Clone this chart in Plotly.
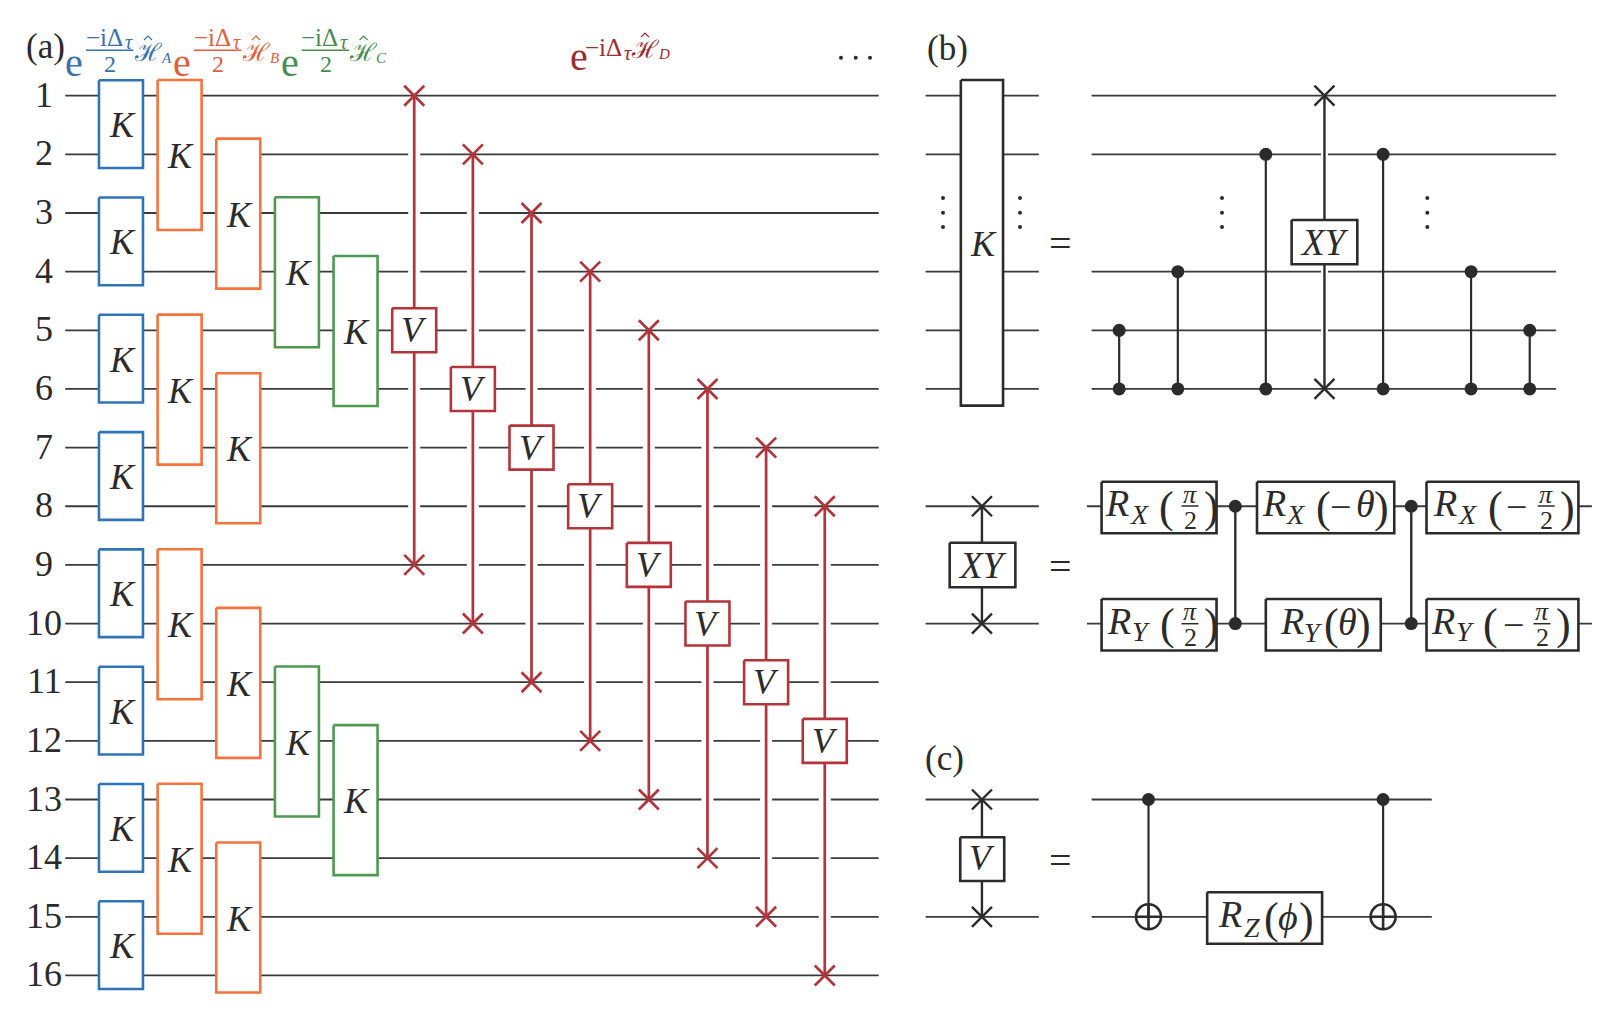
import plotly.graph_objects as go

# Wire labels and gates. Wires are numbered from the top, columns count gate slots
wire_labels = [str(i) for i in range(1, 17)]
main_wires = list(range(1, 17))

blue_gates = [(2, 1, 2), (2, 3, 4), (2, 5, 6), (2, 7, 8), (2, 9, 10), (2, 11, 12), (2, 13, 14), (2, 15, 16)]
orange_gates = [(3, 1, 3), (3, 5, 7), (3, 9, 11), (3, 13, 15), (4, 2, 4), (4, 6, 8), (4, 10, 12), (4, 14, 16)]
green_gates = [(5, 3, 5), (5, 11, 13), (6, 4, 6), (6, 12, 14)]
# column, top wire, bottom wire
red_gates = [(7, 1, 9), (8, 2, 10), (9, 3, 11), (10, 4, 12), (11, 5, 13), (12, 6, 14), (13, 7, 15), (14, 8, 16)]

# panel (b)
b_wires = [1, 2, 4, 5, 6]
b_cz_cols = [19.02, 20.02, 21.52, 23.52, 25.02, 26.02]
b_cz_tops = [5, 4, 2, 2, 4, 5]
b_swap_col = 22.52
xy_wires = [8, 10]
xy_swap_col = 16.68
xy_cz_cols = [21.0, 24.0]
# left column, right column, wire
xy_boxes = [(18.72, 20.68, 8), (18.72, 20.68, 10), (21.37, 23.71, 8), (21.52, 23.48, 10),
            (24.26, 26.85, 8), (24.26, 26.85, 10)]

# panel (c)
c_wires = [13, 15]
c_swap_col = 16.68
c_cnot_cols = [19.52, 23.52]
c_rz_box = (20.52, 22.48, 15)

PITCH = 58.65
X0 = 3.66     # pixel of column 0
Y1 = 95.7     # pixel of wire 1
WIDTH, HEIGHT = 1618, 1022

FONT = "Liberation Serif"
INK = "#2b2b2b"
WIRE = "#3a3a3a"
BLUE, ORANGE, GREEN, RED = "#2f75b5", "#f5733c", "#4e9a50", "#b3343a"
BLUE_T, ORANGE_T, GREEN_T, RED_T = "#3a70ab", "#e2603c", "#4a8c50", "#9c2c32"


def xp(px):
    return (px - X0) / PITCH


def yp(px):
    return 1 + (px - Y1) / PITCH


fig = go.Figure()


def add_path(xs, ys, color, width, fill=None):
    fig.add_trace(go.Scatter(x=xs, y=ys, mode="lines", line=dict(color=color, width=width),
                             fill="toself" if fill else None, fillcolor=fill,
                             hoverinfo="skip", showlegend=False))


def add_marks(xs, ys, symbol, size, color, line_width=0):
    fig.add_trace(go.Scatter(x=xs, y=ys, mode="markers",
                             marker=dict(symbol=symbol, size=size, color=color,
                                         line=dict(color=color, width=line_width)),
                             hoverinfo="skip", showlegend=False))


def hlines(wires, left, right, width=1.8):
    xs, ys = [], []
    for w in wires:
        xs += [left, right, None]
        ys += [w, w, None]
    add_path(xs, ys, WIRE, width)


def vlines(cols, tops, bottoms, color, width):
    xs, ys = [], []
    for c, t, b in zip(cols, tops, bottoms):
        xs += [c, c, None]
        ys += [t, b, None]
    add_path(xs, ys, color, width)


def boxes(rects, color, width=2.6):
    # rects are left, right, top, bottom in data units
    xs, ys = [], []
    for l, r, t, b in rects:
        xs += [l, r, r, l, l, None]
        ys += [t, t, b, b, t, None]
    add_path(xs, ys, color, width, fill="white")


def label(px, py, text, size=34, color=INK, italic=False):
    fig.add_annotation(x=xp(px), y=yp(py), text=text, showarrow=False, xanchor="center", yanchor="middle",
                       font=dict(family=FONT, size=size, color=color, style="italic" if italic else "normal"))


def bar(px0, px1, py, color=INK, width=1.5):
    add_path([xp(px0), xp(px1)], [yp(py), yp(py)], color, width)


def script_h(px, py, color):
    # the hat over the script H is a small stroke, the fallback font puts a combining one off to the side
    label(px, py, "ℋ", 25, color)
    add_path([xp(px - 4), xp(px), xp(px + 4)], [yp(py - 12), yp(py - 16), yp(py - 12)], color, 1.2)


# Panel (a) wires, then the white gaps the red lines leave in them
hlines(main_wires, 1.05, 14.92)
gap = 0.12
vlines([g[0] for g in red_gates], [g[1] + gap for g in red_gates], [g[2] - gap for g in red_gates], "white", 12)
vlines([g[0] for g in red_gates], [g[1] for g in red_gates], [g[2] for g in red_gates], RED, 2.7)
add_marks([g[0] for g in red_gates] * 2, [g[1] for g in red_gates] + [g[2] for g in red_gates],
          "x-thin", 20, RED, 2.7)

half = 22 / PITCH
boxes([(c - half, c + half, t - 15.5 / PITCH, b + 13.6 / PITCH) for c, t, b in blue_gates], BLUE)
boxes([(c - half, c + half, t - 15.7 / PITCH, b + 17 / PITCH) for c, t, b in orange_gates], ORANGE)
boxes([(c - half, c + half, t - 15.7 / PITCH, b + 17 / PITCH) for c, t, b in green_gates], GREEN)
boxes([(c - half, c + half, (t + b) / 2 - 22 / PITCH, (t + b) / 2 + 22 / PITCH) for c, t, b in red_gates], RED)

for name, w in zip(wire_labels, main_wires):
    label(44, Y1 + (w - 1) * PITCH - 1, name, 36)
for c, t, b in blue_gates:
    fig.add_annotation(x=c + 0.02, y=(t + b) / 2, text="K", showarrow=False,
                       font=dict(family=FONT, size=36, color=INK, style="italic"))
for c, t, b in orange_gates + green_gates:
    fig.add_annotation(x=c + 0.02, y=(t + b) / 2 + 0.03, text="K", showarrow=False,
                       font=dict(family=FONT, size=36, color=INK, style="italic"))
for c, t, b in red_gates:
    fig.add_annotation(x=c, y=(t + b) / 2, text="V", showarrow=False,
                       font=dict(family=FONT, size=36, color=INK, style="italic"))

# Panel headers
label(45, 46, "(a)", 35)
label(947.7, 48, "(b)", 35)
label(944, 758, "(c)", 35)


def half_step(dx, sub, c_text):
    label(74 + dx, 62, "e", 40, c_text)
    label(104 + dx, 37, "−iΔ", 25, c_text)
    label(128.5 + dx, 42, "τ", 20, c_text, True)
    bar(86 + dx, 133.5 + dx, 50.3, c_text, 1.6)
    label(110 + dx, 64, "2", 24, c_text)
    script_h(148 + dx, 52, c_text)
    label(166 + dx, 58, sub, 15, c_text, True)


half_step(0, "A", BLUE_T)
half_step(108, "B", ORANGE_T)
half_step(215.6, "C", GREEN_T)

label(579, 56, "e", 40, RED_T)
label(603, 47, "−iΔ", 25, RED_T)
label(627.5, 53, "τ", 20, RED_T, True)
script_h(645, 49, RED_T)
label(664, 54, "D", 15, RED_T, True)

add_marks([xp(841), xp(855.7), xp(870)], [yp(57.7)] * 3, "circle", 4, INK)

# Panel (b)
hlines(b_wires, 15.72, 17.65)
boxes([(16.32, 17.04, 1 - 15.7 / PITCH, 6 + 16.7 / PITCH)], INK)
fig.add_annotation(x=16.7, y=yp(244), text="K", showarrow=False,
                   font=dict(family=FONT, size=36, color=INK, style="italic"))
label(1060.7, 243, "=", 40)
hlines(b_wires, 18.55, 26.47)
vlines([b_swap_col], [2 - gap / 2], [5 + gap / 2], "white", 7)
vlines(b_cz_cols, b_cz_tops, [6] * len(b_cz_cols), INK, 2.2)
vlines([b_swap_col], [1], [6], INK, 2.4)
add_marks([b_swap_col] * 2, [1, 6], "x-thin", 20, INK, 2.4)
boxes([(21.96, 23.08, yp(220), yp(264.3))], INK)
label(1324.7, 242, "XY", 37, INK, True)
add_marks(b_cz_cols * 2, b_cz_tops + [6] * len(b_cz_cols), "circle", 13, INK)
for px in [943, 1020, 1222, 1427.3]:
    add_marks([xp(px)] * 3, [yp(198), yp(212.7), yp(227)], "circle", 4, INK)

# XY gate definition
hlines(xy_wires, 15.72, 17.65)
vlines([xy_swap_col], [8], [10], INK, 2.4)
add_marks([xy_swap_col] * 2, xy_wires, "x-thin", 20, INK, 2.4)
boxes([(16.13, 17.25, yp(542.7), yp(587.3))], INK)
label(982.3, 565, "XY", 37, INK, True)
label(1060.7, 566, "=", 40)
hlines(xy_wires, 18.47, 27.08)
vlines(xy_cz_cols, [8, 8], [10, 10], INK, 2.4)
boxes([(l, r, w - 24.5 / PITCH, w + 27 / PITCH) for l, r, w in xy_boxes], INK)
add_marks(xy_cz_cols * 2, [8, 8, 10, 10], "circle", 13, INK)


def rot_gate(py, r_x, axis, axis_x, open_x, frac_x, close_x, minus_x=None):
    label(r_x, py - 3, "R", 38, INK, True)
    label(axis_x, py + 8, axis, 28, INK, True)
    label(open_x - 1, py + 1, "(", 44)
    if minus_x:
        label(minus_x, py + 1, "−", 38)
    label(frac_x, py - 12, "π", 26, INK, True)
    bar(frac_x - 8.5, frac_x + 8.5, py, INK, 1.5)
    label(frac_x, py + 14, "2", 26)
    label(close_x + 1, py + 1, ")", 44)


rot_gate(506, 1116.7, "X", 1139, 1167.3, 1190, 1210.7)
rot_gate(623.7, 1119, "Y", 1141.7, 1168, 1190, 1210.7)
rot_gate(506, 1444.7, "X", 1467.3, 1496, 1546.3, 1566.7, 1516.7)
rot_gate(623.7, 1443.3, "Y", 1465, 1491.7, 1542, 1562.3, 1513.3)

label(1273.7, 503, "R", 38, INK, True)
label(1295, 514, "X", 28, INK, True)
label(1323.3, 507, "(", 44)
label(1340, 507, "−", 38)
label(1365, 504, "θ", 38, INK, True)
label(1381.7, 507, ")", 44)

label(1291.7, 621, "R", 38, INK, True)
label(1313.3, 632, "Y", 28, INK, True)
label(1331.7, 624, "(", 44)
label(1347.3, 622, "θ", 38, INK, True)
label(1363.3, 624, ")", 44)

# Panel (c)
hlines(c_wires, 15.72, 17.65)
vlines([c_swap_col], [13], [15], INK, 2.4)
add_marks([c_swap_col] * 2, c_wires, "x-thin", 20, INK, 2.4)
boxes([(16.31, 17.06, yp(837.3), yp(881))], INK)
label(982.3, 858, "V", 36, INK, True)
label(1060.7, 860, "=", 40)
hlines(c_wires, 18.55, 24.35)
vlines(c_cnot_cols, [13, 13], [15, 15], INK, 2.2)
boxes([(c_rz_box[0], c_rz_box[1], c_rz_box[2] - 24.5 / PITCH, c_rz_box[2] + 27 / PITCH)], INK)
add_marks(c_cnot_cols, [13, 13], "circle", 13, INK)
add_marks(c_cnot_cols, [15, 15], "circle-cross-open", 25, INK, 2.6)
label(1230, 914, "R", 38, INK, True)
label(1252, 927, "Z", 28, INK, True)
label(1271.7, 918, "(", 44)
label(1288.3, 917, "ϕ", 38, INK, True)
label(1306.7, 918, ")", 44)

fig.update_xaxes(visible=False, range=[xp(0), xp(WIDTH)], fixedrange=True)
fig.update_yaxes(visible=False, range=[yp(HEIGHT), yp(0)], fixedrange=True)
fig.update_layout(width=WIDTH, height=HEIGHT, margin=dict(l=0, r=0, t=0, b=0),
                  plot_bgcolor="white", paper_bgcolor="white", showlegend=False)

fig.write_html("out.html", config={"displayModeBar": False},
               post_script="document.body.style.margin='0';document.body.style.overflow='hidden';")
